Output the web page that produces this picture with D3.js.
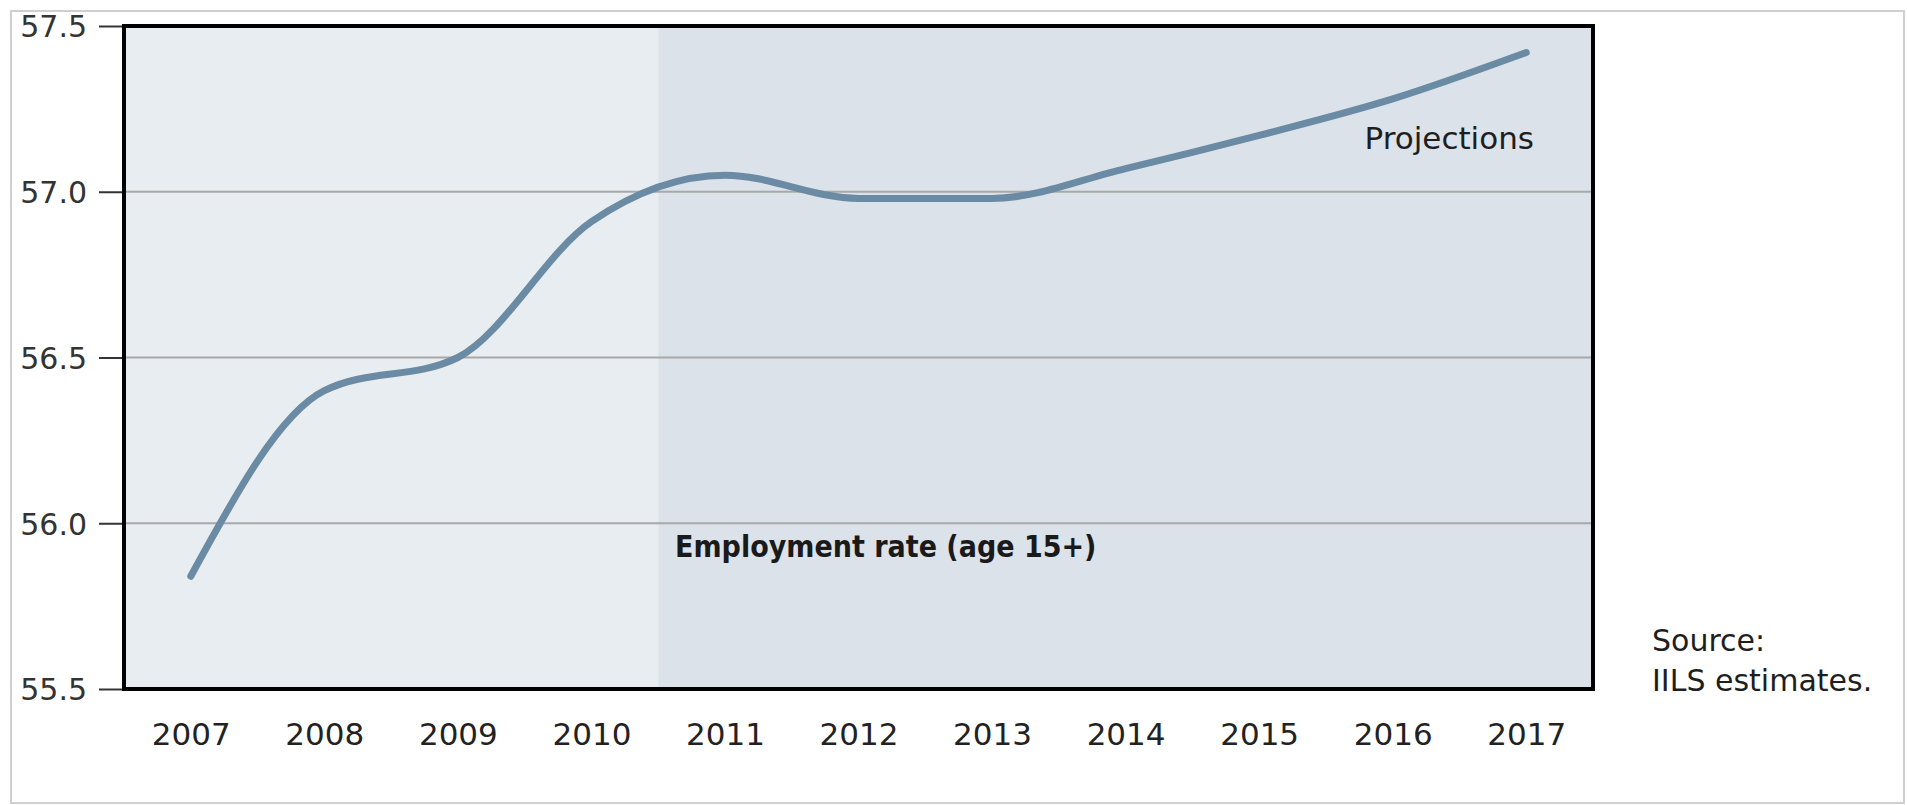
<!DOCTYPE html>
<html>
<head>
<meta charset="utf-8">
<script src="https://cdn.jsdelivr.net/npm/d3@7"></script>
<style>
  html, body { margin: 0; padding: 0; background: #ffffff; }
  svg { display: block; }
  text { font-family: "DejaVu Sans", sans-serif; }
</style>
</head>
<body>
<svg id="chart" width="1907" height="805"></svg>
<script>
// ---- data ----
const years = [2007, 2008, 2009, 2010, 2011, 2012, 2013, 2014, 2015, 2016, 2017];
const employmentRate = [55.84, 56.40, 56.50, 56.91, 57.05, 56.98, 56.98, 57.07, 57.17, 57.28, 57.42];
const yTicks = [55.5, 56.0, 56.5, 57.0, 57.5];
const gridValues = [56.0, 56.5, 57.0];
const projectionStartYear = 2011;
const seriesLabel = "Employment rate (age 15+)";
const projectionLabel = "Projections";
const sourceLines = ["Source:", "IILS estimates."];

// ---- layout ----
const W = 1907, H = 805;
const plot = { left: 124, top: 26, right: 1593, bottom: 689 };

const svg = d3.select("#chart");

// outer light frame
svg.append("rect")
  .attr("x", 11).attr("y", 11)
  .attr("width", 1893).attr("height", 792)
  .attr("fill", "#ffffff")
  .attr("stroke", "#cfcfcf")
  .attr("stroke-width", 2);

const x = d3.scalePoint()
  .domain(years)
  .range([plot.left, plot.right])
  .padding(0.5);

const y = d3.scaleLinear()
  .domain([55.5, 57.5])
  .range([plot.bottom, plot.top]);

// backgrounds
const boundary = x(projectionStartYear) - x.step() / 2;
svg.append("rect")
  .attr("x", plot.left).attr("y", plot.top)
  .attr("width", boundary - plot.left).attr("height", plot.bottom - plot.top)
  .attr("fill", "#e8edf1");
svg.append("rect")
  .attr("x", boundary).attr("y", plot.top)
  .attr("width", plot.right - boundary).attr("height", plot.bottom - plot.top)
  .attr("fill", "#dbe2e9");

// gridlines
svg.append("g")
  .selectAll("line")
  .data(gridValues)
  .join("line")
  .attr("x1", plot.left).attr("x2", plot.right)
  .attr("y1", d => y(d)).attr("y2", d => y(d))
  .attr("stroke", "#a8a8a8")
  .attr("stroke-width", 2);

// line
const line = d3.line()
  .x((d, i) => x(years[i]))
  .y(d => y(d))
  .curve(d3.curveMonotoneX);

svg.append("path")
  .datum(employmentRate)
  .attr("d", line)
  .attr("fill", "none")
  .attr("stroke", "#6a8ba3")
  .attr("stroke-width", 7)
  .attr("stroke-linecap", "round")
  .attr("stroke-linejoin", "round");

// y axis
const yAxis = d3.axisLeft(y)
  .tickValues(yTicks)
  .tickFormat(d3.format(".1f"))
  .tickSize(25)
  .tickPadding(12);

const gy = svg.append("g")
  .attr("transform", `translate(${plot.left},0)`)
  .call(yAxis);
gy.select(".domain").remove();
gy.selectAll(".tick line").attr("stroke", "#333").attr("stroke-width", 2);
gy.selectAll(".tick text")
  .attr("fill", "#333")
  .style("font-family", "'DejaVu Sans', sans-serif")
  .style("font-size", "30px")
  .attr("dy", "0.36em");

// x axis labels
const xAxis = d3.axisBottom(x)
  .tickSize(0)
  .tickPadding(0)
  .tickFormat(d3.format("d"));
const gx = svg.append("g")
  .attr("transform", `translate(0,${plot.bottom})`)
  .call(xAxis);
gx.select(".domain").remove();
gx.selectAll(".tick text")
  .attr("fill", "#222")
  .attr("y", 56)
  .attr("dy", 0)
  .style("font-family", "'DejaVu Sans', sans-serif")
  .style("font-size", "31px");

// plot frame
svg.append("rect")
  .attr("x", plot.left).attr("y", plot.top)
  .attr("width", plot.right - plot.left).attr("height", plot.bottom - plot.top)
  .attr("fill", "none")
  .attr("stroke", "#000")
  .attr("stroke-width", 4);

// annotations
svg.append("text")
  .attr("x", 1534).attr("y", 149)
  .attr("text-anchor", "end")
  .attr("fill", "#1e1e1e")
  .style("font-size", "31px")
  .text(projectionLabel);

svg.append("text")
  .attr("x", 675).attr("y", 557)
  .attr("fill", "#1a1a1a")
  .style("font-family", "'DejaVu Sans Condensed', 'DejaVu Sans', sans-serif")
  .style("font-stretch", "condensed")
  .style("font-weight", "bold")
  .style("font-size", "30px")
  .text(seriesLabel);

svg.append("g")
  .selectAll("text")
  .data(sourceLines)
  .join("text")
  .attr("x", 1652)
  .attr("y", (d, i) => 651 + i * 40)
  .attr("fill", "#1e1e1e")
  .style("font-size", "30px")
  .text(d => d);
</script>
</body>
</html>
